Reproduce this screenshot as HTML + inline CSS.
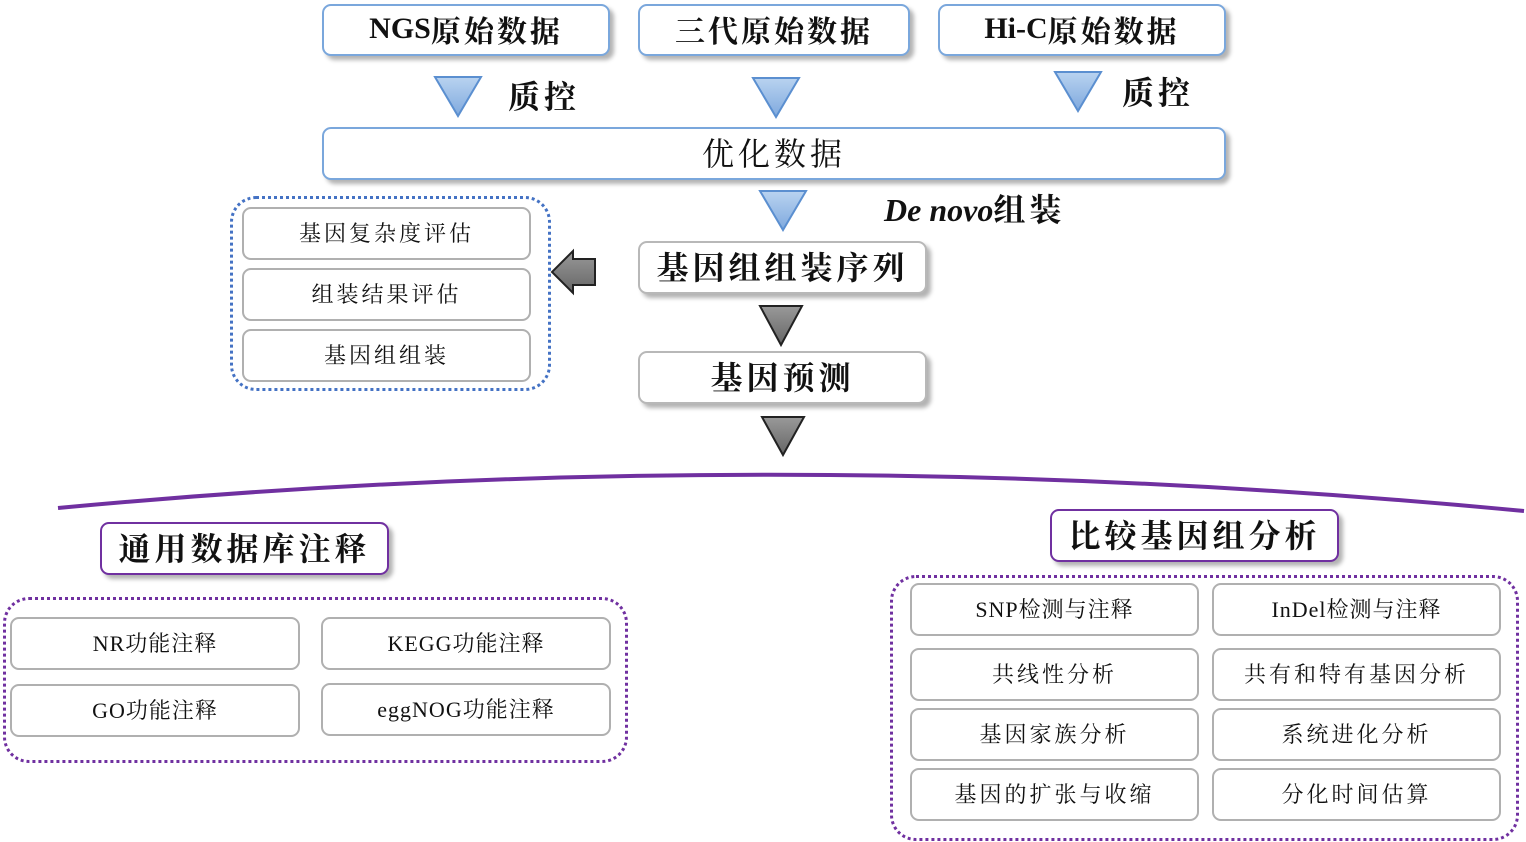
<!DOCTYPE html>
<html><head><meta charset="utf-8"><style>
body{margin:0;width:1526px;height:842px;background:#fff;position:relative;overflow:hidden;font-family:"Liberation Serif","Noto Serif CJK SC",serif;color:#111}
.b{position:absolute;box-sizing:border-box;display:flex;align-items:center;justify-content:center;background:#fff;border-radius:9px;white-space:nowrap;padding-bottom:3px}
.blue{border:2px solid #7aa7dc;box-shadow:4px 4px 4px rgba(0,0,0,.3);font-weight:bold;font-size:30px;letter-spacing:3px}
.gray{border:2px solid #b0b0b0;font-size:22px;letter-spacing:3px}
.gs{border:2px solid #b8b8b8;box-shadow:4px 4px 4px rgba(0,0,0,.3);font-size:32px;letter-spacing:4px;font-weight:bold}
.pur{border:2px solid #7030a0;box-shadow:4px 4px 4px rgba(0,0,0,.3);font-size:32px;letter-spacing:4px;font-weight:bold}
.t{position:absolute;white-space:nowrap;font-weight:bold;font-size:32px;letter-spacing:4px}
.dot{position:absolute;box-sizing:border-box;border-radius:26px}
.l{letter-spacing:0}
</style></head><body>
<svg width="1526" height="842" style="position:absolute;left:0;top:0">
<defs>
<linearGradient id="bg" x1="0" y1="0" x2="0" y2="1"><stop offset="0" stop-color="#b9d3f0"/><stop offset="1" stop-color="#7fa9de"/></linearGradient>
<linearGradient id="gg" x1="0" y1="0" x2="0" y2="1"><stop offset="0" stop-color="#999"/><stop offset="1" stop-color="#666"/></linearGradient>
</defs>
<g stroke="#5b8fd0" stroke-width="2" fill="url(#bg)">
<polygon points="435,77 481,77 458,116"/>
<polygon points="753,78 799,78 776,117"/>
<polygon points="1055,72 1101,72 1078,111"/>
<polygon points="760,191 806,191 783,230"/>
</g>
<g stroke="#222" stroke-width="2" fill="url(#gg)">
<polygon points="760,306 802,306 781,345"/>
<polygon points="762,417 804,417 783,455"/>
<polygon points="595,259 573,259 573,251 552,272 573,293 573,285 595,285"/>
</g>
<path d="M58,508 Q780,440 1524,511" stroke="#7030a0" stroke-width="4" fill="none"/>
</svg>
<div class="b blue" style="left:322px;top:4px;width:288px;height:52px"><span class="l">NGS</span>原始数据</div>
<div class="b blue" style="left:638px;top:4px;width:272px;height:52px">三代原始数据</div>
<div class="b blue" style="left:938px;top:4px;width:288px;height:52px"><span class="l">Hi-C</span>原始数据</div>
<div class="t" style="left:508px;top:72px">质控</div>
<div class="t" style="left:1122px;top:68px">质控</div>
<div class="b blue" style="left:322px;top:127px;width:904px;height:53px;font-weight:normal;font-size:32px;letter-spacing:4px">优化数据</div>
<div class="t" style="left:884px;top:185px"><i style="letter-spacing:0">De novo</i>组装</div>
<div class="dot" style="left:230px;top:196px;width:321px;height:195px;border:3px dotted #4472c4"></div>
<div class="b gray" style="left:242px;top:207px;width:289px;height:53px">基因复杂度评估</div>
<div class="b gray" style="left:242px;top:268px;width:289px;height:53px">组装结果评估</div>
<div class="b gray" style="left:242px;top:329px;width:289px;height:53px">基因组组装</div>
<div class="b gs" style="left:638px;top:241px;width:289px;height:53px">基因组组装序列</div>
<div class="b gs" style="left:638px;top:351px;width:289px;height:53px">基因预测</div>
<div class="b pur" style="left:100px;top:522px;width:289px;height:53px">通用数据库注释</div>
<div class="dot" style="left:3px;top:597px;width:625px;height:166px;border:3px dotted #7030a0"></div>
<div class="b gray" style="left:10px;top:617px;width:290px;height:53px;letter-spacing:1px">NR功能注释</div>
<div class="b gray" style="left:321px;top:617px;width:290px;height:53px;letter-spacing:1px">KEGG功能注释</div>
<div class="b gray" style="left:10px;top:684px;width:290px;height:53px;letter-spacing:1px">GO功能注释</div>
<div class="b gray" style="left:321px;top:683px;width:290px;height:53px;letter-spacing:1px">eggNOG功能注释</div>
<div class="b pur" style="left:1050px;top:509px;width:289px;height:53px">比较基因组分析</div>
<div class="dot" style="left:890px;top:575px;width:629px;height:266px;border:3px dotted #7030a0"></div>
<div class="b gray" style="left:910px;top:583px;width:289px;height:53px;letter-spacing:1px">SNP检测与注释</div>
<div class="b gray" style="left:1212px;top:583px;width:289px;height:53px;letter-spacing:1px">InDel检测与注释</div>
<div class="b gray" style="left:910px;top:648px;width:289px;height:53px">共线性分析</div>
<div class="b gray" style="left:1212px;top:648px;width:289px;height:53px">共有和特有基因分析</div>
<div class="b gray" style="left:910px;top:708px;width:289px;height:53px">基因家族分析</div>
<div class="b gray" style="left:1212px;top:708px;width:289px;height:53px">系统进化分析</div>
<div class="b gray" style="left:910px;top:768px;width:289px;height:53px">基因的扩张与收缩</div>
<div class="b gray" style="left:1212px;top:768px;width:289px;height:53px">分化时间估算</div>
</body></html>
